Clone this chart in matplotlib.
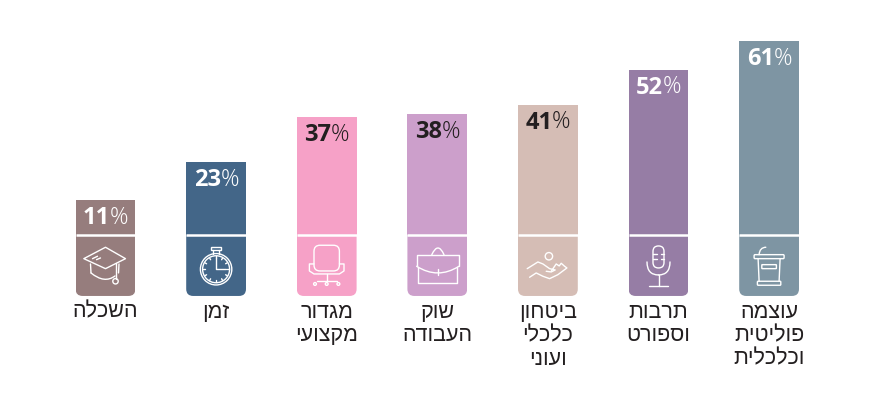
import matplotlib
matplotlib.use("Agg")
import matplotlib.pyplot as plt
import numpy as np
from matplotlib.patches import FancyBboxPatch, Circle, Rectangle, PathPatch
from matplotlib.path import Path
from matplotlib.transforms import Affine2D

categories = [["השכלה"], ["זמן"], ["מגדור", "מקצועי"], ["שוק", "העבודה"],
              ["ביטחון", "כלכלי", "ועוני"], ["תרבות", "וספורט"],
              ["עוצמה", "פוליטית", "וכלכלית"]]
values = [11, 23, 37, 38, 41, 52, 61]
colors = ["#967D7D", "#436688", "#F6A1C7", "#CC9FCB", "#D5BDB5", "#967DA5", "#7E95A3"]
label_colors = ["white", "white", "#231F20", "#231F20", "#231F20", "white", "white"]
icon_base = -19.2

W, H = 873, 394
fig = plt.figure(figsize=(W / 100, H / 100), dpi=100, facecolor="white")
ax = fig.add_axes([0, (H - 296) / H, 1, 296 / H])
x = np.arange(len(values))
ax.set_xlim(-105.5 / 110.6, (W - 105.5) / 110.6)
ax.set_ylim(icon_base, 235 / 3.18)
for s in ax.spines.values():
    s.set_visible(False)
ax.yaxis.set_visible(False)
ax.set_facecolor("none")

tops = ax.bar(x, values, width=0.54, color=colors, linewidth=0)
lows = ax.bar(x, [icon_base] * len(x), width=0.54, color=colors, linewidth=0)
ax.hlines([0] * len(x), x - 0.27, x + 0.27, color="white", lw=1.8, zorder=3)

ax.set_xticks(x)
ax.set_xticklabels(["\n".join(l[::-1] for l in c) for c in categories],
                   family="Liberation Sans", fontsize=15.5, color="#231F20",
                   linespacing=1.16, va="top")
ax.tick_params(axis="x", length=0, pad=4)

for i, (v, c) in enumerate(zip(values, label_colors)):
    ax.annotate(str(v), (i, v), xytext=(3.4, -13.0), textcoords="offset points",
                ha="right", va="center", family="Open Sans", weight="bold",
                fontsize=17, color=c)
    ax.annotate("%", (i, v), xytext=(3.0, -12.8), textcoords="offset points",
                ha="left", va="center", family="Open Sans", weight="light",
                fontsize=16.5, color=c)


def local(i):
    cx, cy = ax.transData.transform((i, 0))
    return Affine2D().scale(1, -1).translate(cx, cy)


def line(i, pts, closed=False, curve=False):
    pts = list(pts)
    if curve:
        codes = [Path.MOVETO] + [Path.CURVE3] * (len(pts) - 1)
    else:
        codes = [Path.MOVETO] + [Path.LINETO] * (len(pts) - 1)
    if closed:
        pts.append(pts[0])
        codes.append(Path.CLOSEPOLY)
    ax.add_patch(PathPatch(Path(pts, codes), fc="none", ec="white", lw=1.0,
                           transform=local(i), clip_on=False, zorder=4,
                           capstyle="round", joinstyle="round"))


def circ(i, xy, r):
    ax.add_patch(Circle(xy, r, fc="none", ec="white", lw=1.0, transform=local(i),
                        clip_on=False, zorder=4))


def rbox(i, x0, y0, w, h, r):
    ax.add_patch(FancyBboxPatch((x0, y0), w, h, boxstyle=f"round,pad=0,rounding_size={r}",
                                fc="none", ec="white", lw=1.0, transform=local(i),
                                clip_on=False, zorder=4))


# rounded lower corners of every bar
for i, low in enumerate(lows):
    clip = FancyBboxPatch((-29.9, -300), 59.8, 361, boxstyle="round,pad=0,rounding_size=7",
                          transform=local(i))
    low.set_clip_path(clip.get_path(), clip.get_transform())

# icon 0: graduation cap
line(0, [(-21.7, 23.7), (0, 12.3), (20, 23.7), (0, 33.7)], closed=True)
line(0, [(-15, 29), (-14.5, 38)])
line(0, [(-14.5, 38), (-1, 49), (9.5, 41)], curve=True)
line(0, [(13.5, 29), (13, 38)])
line(0, [(10, 28), (10, 43.7)])
line(0, [(-13, 23.7), (-8, 21.3)])
line(0, [(-9, 24.7), (-5, 23)])
circ(0, (10, 46.3), 2.7)

# icon 1: stopwatch
circ(1, (0, 34.3), 15.7)
circ(1, (0, 34.3), 13.5)
ax.add_patch(Rectangle((-5.3, 12.3), 10.6, 2.7, fc="none", ec="white", lw=1.0,
                       transform=local(1), clip_on=False, zorder=4))
line(1, [(-2.7, 15), (-2.7, 18.7)])
line(1, [(2.7, 15), (2.7, 18.7)])
line(1, [(0, 23), (0, 34.3), (10, 34.3)])
for a in np.arange(0, 360, 30):
    s, c_ = np.sin(np.radians(a)), np.cos(np.radians(a))
    line(1, [(11 * s, 34.3 + 11 * c_), (12.8 * s, 34.3 + 12.8 * c_)])

# icon 2: chair
rbox(2, -12.7, 10.3, 25.4, 25.7, 6)
line(2, [(-12.7, 29), (-17.3, 29), (-17.3, 36), (-12.7, 39), (12.7, 39),
         (17.3, 36), (17.3, 29), (12.7, 29)])
line(2, [(0, 39), (0, 46.3)])
line(2, [(-10, 46.3), (10, 46.3)])
for dx in (-11.7, 0, 11.7):
    circ(2, (dx, 49), 1.4)

# icon 3: briefcase
line(3, [(-20.7, 31.3), (-20.7, 19.7), (21.7, 19.7), (21.7, 31.3)])
line(3, [(-19, 32), (-19, 48), (20, 48), (20, 32)])
line(3, [(-20.7, 31.3), (0.5, 44.7), (21.7, 31.3)], curve=True)
line(3, [(0.7, 33.7), (0.7, 39.7)])
line(3, [(-5.5, 19.7), (0.7, 6.3), (6.7, 19.7)], curve=True)

# icon 4: hand with coin
circ(4, (1, 21.3), 3.7)
line(4, [(-20.7, 33.7), (-10, 27), (-5, 29), (1.7, 33.7), (7.3, 35), (3.3, 37), (-1.7, 36.3)])
line(4, [(3.3, 36.3), (8.3, 29), (11.3, 31), (13.3, 28.3), (16.7, 31.3), (19, 33),
         (10, 39.7), (1.7, 43.7), (-5, 41.3), (-11.7, 38), (-18.3, 42.3)])

# icon 5: microphone
rbox(5, -5.5, 11, 11, 22, 5.5)
line(5, [(-5.5, 19), (-2, 19)])
line(5, [(2, 19), (5.5, 19)])
line(5, [(-5.5, 24), (-2, 24)])
line(5, [(2, 24), (5.5, 24)])
line(5, [(-11.5, 27), (-11.5, 40), (0, 40)], curve=True)
line(5, [(0, 40), (11.5, 40), (11.5, 27)], curve=True)
line(5, [(0, 40), (0, 51)])
line(5, [(-9.5, 51), (9.5, 51)])

# icon 6: lectern
rbox(6, -15, 19.7, 30, 4, 1)
line(6, [(-11, 23.7), (-10, 46.3)])
line(6, [(11, 23.7), (10, 46.3)])
rbox(6, -11.7, 46.3, 23.4, 4, 0.8)
rbox(6, -7.3, 29.7, 14.6, 4, 0.5)
line(6, [(-10, 19.7), (-9.5, 12.5), (-3.3, 12.3)], curve=True)

fig.savefig("out.png", dpi=100, facecolor="white")
